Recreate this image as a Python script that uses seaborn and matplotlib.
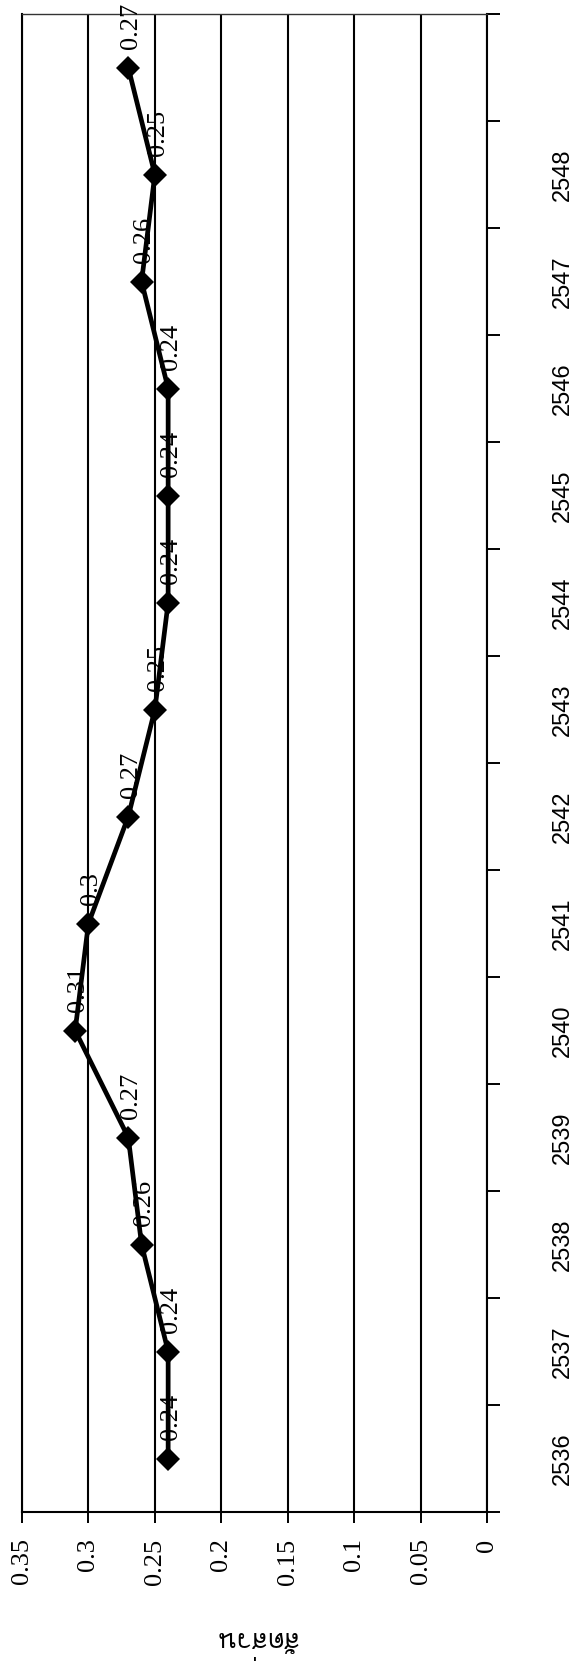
import numpy as np
import pandas as pd
import matplotlib
matplotlib.use("Agg")
import matplotlib.pyplot as plt
import seaborn as sns
from matplotlib import font_manager as fm
from matplotlib.ft2font import FT2Font

# ---- data ----
years = [2536, 2537, 2538, 2539, 2540, 2541, 2542, 2543, 2544, 2545, 2546, 2547, 2548, 2549]
year_labels = ["2536", "2537", "2538", "2539", "2540", "2541", "2542", "2543",
               "2544", "2545", "2546", "2547", "2548", ""]
values = [0.24, 0.24, 0.26, 0.27, 0.31, 0.30, 0.27, 0.25, 0.24, 0.24, 0.24, 0.26, 0.25, 0.27]
value_ticks = [0, 0.05, 0.10, 0.15, 0.20, 0.25, 0.30, 0.35]
value_tick_labels = ["0", "0.05", "0.1", "0.15", "0.2", "0.25", "0.3", "0.35"]
axis_label = "สัดส่วน"

sns.set_theme(style="white")
plt.rcParams["font.family"] = ["Liberation Serif", "DejaVu Serif"]
plt.rcParams["text.color"] = "black"
plt.rcParams["xtick.color"] = "black"
plt.rcParams["ytick.color"] = "black"


def find_thai():
    for f in fm.fontManager.ttflist:
        try:
            cm = FT2Font(f.fname).get_charmap()
        except Exception:
            continue
        if 0x0E2A in cm and 0x0E27 in cm and 0x0E19 in cm:
            return f.name
    return None


thai_font = find_thai()
thai_family = [thai_font, "DejaVu Sans"] if thai_font else ["DejaVu Sans"]

W, H = 574, 1666
fig = plt.figure(figsize=(W / 100, H / 100), dpi=100)
fig.patch.set_facecolor("white")
ax = fig.add_axes([22 / W, 154 / H, 465 / W, 1498 / H])
ax.set_facecolor("white")

df = pd.DataFrame({"year": years, "pos": np.arange(len(years)), "value": values})

ax.grid(axis="x", color="black", lw=1.5, zorder=0)
ax.grid(axis="y", visible=False)
ax.set_axisbelow(True)

sns.lineplot(data=df, x="value", y="pos", orient="y", sort=False, estimator=None,
             color="black", lw=3.4, marker="D", markersize=12.5, markeredgewidth=0,
             ax=ax, zorder=3)

for v, p in zip(df["value"], df["pos"]):
    ax.annotate(f"{v:g}", (v, p), xytext=(2, 13), textcoords="offset points",
                rotation=90, ha="center", va="bottom", fontsize=19, color="black",
                family=["Liberation Serif", "DejaVu Serif"], zorder=4)

ax.set_xlim(0.35, 0)
ax.set_ylim(-0.5, len(years) - 0.5)

ax.set_xticks(value_ticks)
ax.set_xticklabels(value_tick_labels, rotation=90, fontsize=19, color="black",
                   family=["Liberation Serif", "DejaVu Serif"], va="top", ha="center")
ax.tick_params(axis="x", direction="out", length=8, width=1.4, pad=11,
               color="black", labelcolor="black", bottom=True)

ax.yaxis.tick_right()
ax.set_yticks(np.arange(-0.5, len(years), 1.0))
ax.set_yticklabels([])
ax.set_yticks(df["pos"], minor=True)
ax.set_yticklabels(year_labels, minor=True, rotation=90, fontsize=17, color="black",
                   family=["Liberation Sans", "DejaVu Sans"], va="center", ha="left")
ax.tick_params(axis="y", which="major", direction="out", length=9, width=1.4,
               color="black", right=True, left=False)
ax.tick_params(axis="y", which="minor", length=0, pad=47, right=True, left=False,
               labelcolor="black")

ax.set_xlabel("")
ax.set_ylabel("")

for s in ["bottom", "right", "left"]:
    ax.spines[s].set_color("black")
    ax.spines[s].set_linewidth(1.5)
ax.spines["top"].set_color("#333333")
ax.spines["top"].set_linewidth(1.0)

fig.text(256 / W, (H - 1640) / H, axis_label, rotation=180, ha="center", va="center",
         fontsize=19, family=thai_family, color="black")

fig.savefig("out.png", dpi=100, facecolor="white")
